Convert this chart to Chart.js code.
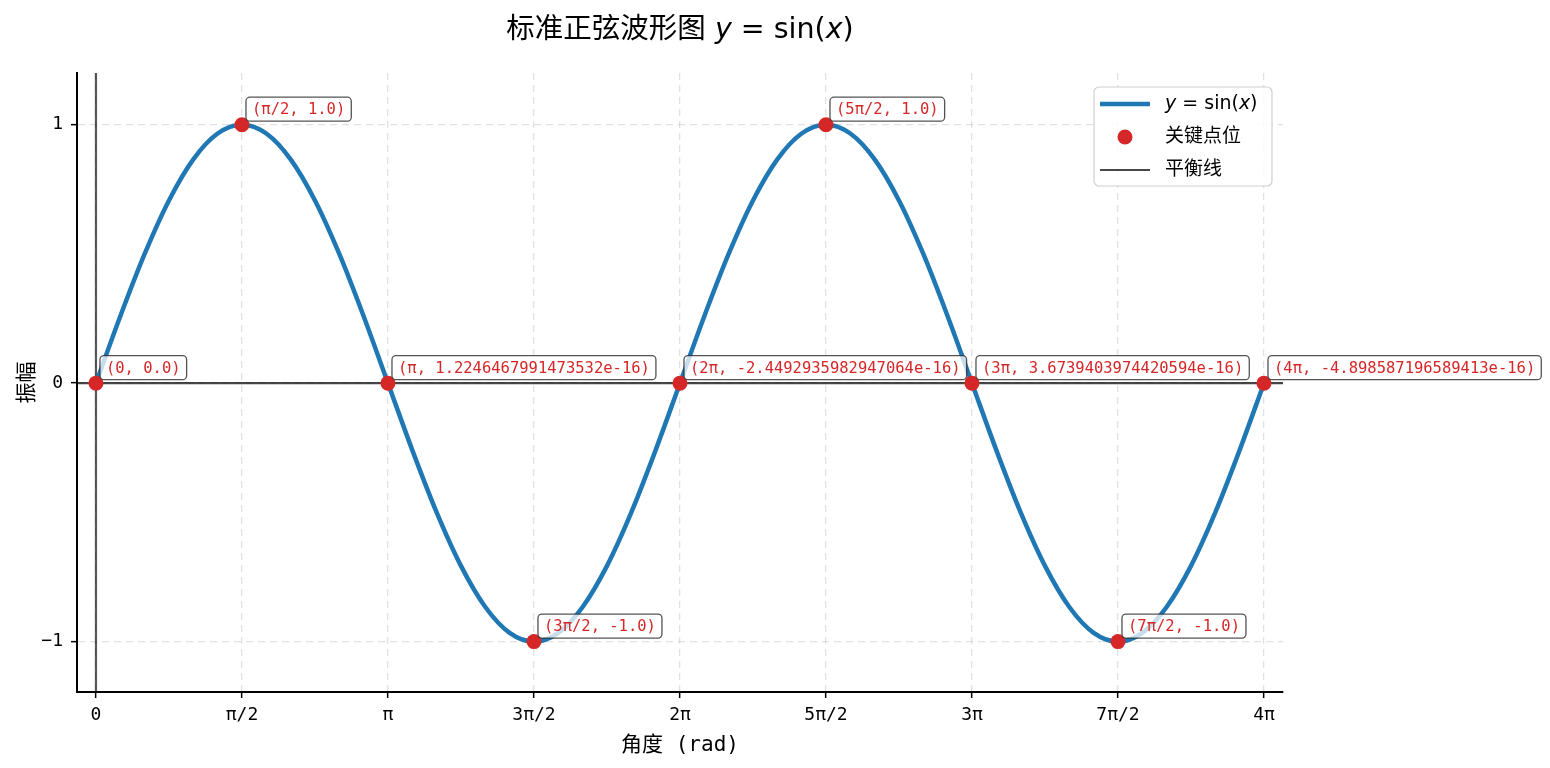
<!DOCTYPE html>
<html lang="zh">
<head>
<meta charset="utf-8">
<title>标准正弦波形图</title>
<script src="https://cdn.jsdelivr.net/npm/chart.js@4.4.1/dist/chart.umd.min.js"></script>
<style>
    html, body { margin: 0; padding: 0; background: #fff; }
    #wrap { width: 1550px; height: 768px; }
</style>
</head>
<body>
<div id="wrap"><canvas id="sineChart"></canvas></div>
<script>
const titleText = '标准正弦波形图 y = sin(x)';
const xAxisTitle = '角度 (rad)';
const yAxisTitle = '振幅';

// curve samples every π/12
const curveX = [0, 0.2618, 0.5236, 0.7854, 1.0472, 1.3090, 1.5708, 1.8326, 2.0944, 2.3562, 2.6180, 2.8798,
    3.1416, 3.4034, 3.6652, 3.9270, 4.1888, 4.4506, 4.7124, 4.9742, 5.2360, 5.4978, 5.7596, 6.0214,
    6.2832, 6.5450, 6.8068, 7.0686, 7.3304, 7.5922, 7.8540, 8.1158, 8.3776, 8.6394, 8.9012, 9.1630,
    9.4248, 9.6866, 9.9484, 10.2102, 10.4720, 10.7338, 10.9956, 11.2574, 11.5192, 11.7810, 12.0428, 12.3046,
    12.5664];
const curveY = [0, 0.259, 0.5, 0.707, 0.866, 0.966, 1, 0.966, 0.866, 0.707, 0.5, 0.259,
    0, -0.259, -0.5, -0.707, -0.866, -0.966, -1, -0.966, -0.866, -0.707, -0.5, -0.259,
    0, 0.259, 0.5, 0.707, 0.866, 0.966, 1, 0.966, 0.866, 0.707, 0.5, 0.259,
    0, -0.259, -0.5, -0.707, -0.866, -0.966, -1, -0.966, -0.866, -0.707, -0.5, -0.259,
    0];

// key points (multiples of π/2)
const keyX = [0, 1.5708, 3.1416, 4.7124, 6.2832, 7.8540, 9.4248, 10.9956, 12.5664];
const keyY = [0, 1, 0, -1, 0, 1, 0, -1, 0];
const keyLabels = ['(0, 0.0)', '(π/2, 1.0)', '(π, 1.2246467991473532e-16)', '(3π/2, -1.0)',
    '(2π, -2.4492935982947064e-16)', '(5π/2, 1.0)', '(3π, 3.6739403974420594e-16)',
    '(7π/2, -1.0)', '(4π, -4.898587196589413e-16)'];

const xTickValues = [0, 1.5708, 3.1416, 4.7124, 6.2832, 7.8540, 9.4248, 10.9956, 12.5664];
const xTickLabels = ['0', 'π/2', 'π', '3π/2', '2π', '5π/2', '3π', '7π/2', '4π'];
const yTickValues = [-1, 0, 1];
const yTickLabels = ['−1', '0', '1'];

const xRange = [-0.204, 12.771];
const yRange = [-1.195, 1.2];

const CJK = "'Noto Sans CJK SC'";
const MONO = "'DejaVu Sans Mono', " + CJK;

// draw text where x / y are italic (matplotlib mathtext look)
function drawMath(ctx, text, x, y, size, align) {
    const runs = [];
    for (const ch of text) {
        const it = (ch === 'x' || ch === 'y');
        if (runs.length && runs[runs.length - 1].it === it) runs[runs.length - 1].t += ch;
        else runs.push({ t: ch, it: it });
    }
    const fontOf = r => (r.it ? 'italic ' : '') + size + "px 'DejaVu Sans', " + CJK;
    let total = 0;
    runs.forEach(r => { ctx.font = fontOf(r); r.w = ctx.measureText(r.t).width; total += r.w; });
    let cx = align === 'center' ? x - total / 2 : x;
    ctx.textAlign = 'left';
    runs.forEach(r => { ctx.font = fontOf(r); ctx.fillText(r.t, cx, y); cx += r.w; });
}

function roundRect(ctx, x, y, w, h, r) {
    ctx.beginPath();
    ctx.moveTo(x + r, y);
    ctx.arcTo(x + w, y, x + w, y + h, r);
    ctx.arcTo(x + w, y + h, x, y + h, r);
    ctx.arcTo(x, y + h, x, y, r);
    ctx.arcTo(x, y, x + w, y, r);
    ctx.closePath();
}

const decorPlugin = {
    id: 'decor',
    afterDatasetsDraw(chart) {
        const { ctx, scales: { x, y } } = chart;
        ctx.save();
        ctx.font = '15.5px ' + MONO;
        ctx.textBaseline = 'middle';
        ctx.textAlign = 'left';
        keyLabels.forEach((t, i) => {
            const px = x.getPixelForValue(keyX[i]);
            const py = y.getPixelForValue(keyY[i]);
            const w = ctx.measureText(t).width;
            const cy = py - 15.5;
            roundRect(ctx, px + 4, cy - 12, w + 12, 24, 4);
            ctx.fillStyle = 'rgba(255,255,255,0.75)';
            ctx.fill();
            ctx.lineWidth = 1.3;
            ctx.strokeStyle = 'rgba(40,40,40,0.8)';
            ctx.stroke();
            ctx.fillStyle = '#d62728';
            ctx.fillText(t, px + 10, cy + 1);
        });
        ctx.restore();
    },
    afterDraw(chart) {
        const { ctx, chartArea } = chart;
        ctx.save();
        // title
        ctx.fillStyle = '#000';
        ctx.textBaseline = 'middle';
        drawMath(ctx, titleText, (chartArea.left + chartArea.right) / 2, 31, 28.5, 'center');

        // legend
        const ds = chart.data.datasets.filter(d => d.label);
        const bx = chartArea.right - 189, by = chartArea.top + 14, bw = 178, bh = 99;
        roundRect(ctx, bx, by, bw, bh, 5);
        ctx.fillStyle = 'rgba(255,255,255,0.85)';
        ctx.fill();
        ctx.lineWidth = 1.2;
        ctx.strokeStyle = '#d0d0d0';
        ctx.stroke();
        ds.forEach((d, i) => {
            const ry = by + 17 + i * 33;
            if (d.showLine === false) {
                ctx.beginPath();
                ctx.arc(bx + 31, ry, 7.5, 0, Math.PI * 2);
                ctx.fillStyle = d.pointBackgroundColor;
                ctx.fill();
            } else {
                ctx.beginPath();
                ctx.moveTo(bx + 6, ry);
                ctx.lineTo(bx + 56, ry);
                ctx.lineWidth = d.borderWidth;
                ctx.strokeStyle = d.borderColor;
                ctx.stroke();
            }
            ctx.fillStyle = '#000';
            drawMath(ctx, d.label, bx + 71, ry, 19, 'left');
        });
        ctx.restore();
    }
};

const ctx = document.getElementById('sineChart').getContext('2d');
new Chart(ctx, {
    type: 'line',
    data: {
        datasets: [
            {
                label: 'y = sin(x)',
                data: curveX.map((v, i) => ({ x: v, y: curveY[i] })),
                borderColor: '#1f77b4',
                borderWidth: 4.5,
                pointRadius: 0,
                cubicInterpolationMode: 'monotone',
                order: 1,
            },
            {
                label: '关键点位',
                data: keyX.map((v, i) => ({ x: v, y: keyY[i] })),
                showLine: false,
                pointRadius: 7.5,
                pointBackgroundColor: '#d62728',
                pointBorderWidth: 0,
                order: 0,
            },
            {
                label: '平衡线',
                data: [{ x: xRange[0], y: 0 }, { x: xRange[1], y: 0 }],
                borderColor: 'rgba(0,0,0,0.72)',
                borderWidth: 2.2,
                pointRadius: 0,
                order: 2,
            },
            {
                label: '',
                data: [{ x: 0, y: yRange[0] }, { x: 0, y: yRange[1] }],
                borderColor: 'rgba(0,0,0,0.65)',
                borderWidth: 2.2,
                pointRadius: 0,
                order: 3,
            },
        ],
    },
    options: {
        responsive: true,
        maintainAspectRatio: false,
        animation: false,
        layout: { padding: { top: 73, right: 267, left: 0, bottom: 0 } },
        plugins: {
            legend: { display: false },
            tooltip: { enabled: false },
            title: { display: false },
        },
        scales: {
            x: {
                type: 'linear',
                min: xRange[0],
                max: xRange[1],
                afterBuildTicks: scale => { scale.ticks = xTickValues.map(v => ({ value: v })); },
                afterFit: scale => { scale.height = 76; },
                ticks: {
                    autoSkip: false,
                    maxRotation: 0,
                    padding: 7,
                    color: '#000',
                    font: { family: MONO, size: 18 },
                    callback: (value, index) => xTickLabels[index],
                },
                grid: { color: 'rgba(176,176,176,0.38)', lineWidth: 1.3, tickLength: 6, tickColor: '#000', tickWidth: 1.5, tickBorderDash: [] },
                border: { display: true, color: '#000', width: 2, dash: [7, 5] },
                title: { display: true, text: xAxisTitle, color: '#000', font: { family: MONO, size: 21 }, padding: { top: 0, bottom: 10 } },
            },
            y: {
                type: 'linear',
                min: yRange[0],
                max: yRange[1],
                afterBuildTicks: scale => { scale.ticks = yTickValues.map(v => ({ value: v })); },
                afterFit: scale => { scale.width = 77; },
                ticks: {
                    padding: 8,
                    color: '#000',
                    font: { family: MONO, size: 18 },
                    callback: (value, index) => yTickLabels[index],
                },
                grid: { color: 'rgba(176,176,176,0.38)', lineWidth: 1.3, tickLength: 6, tickColor: '#000', tickWidth: 1.5, tickBorderDash: [] },
                border: { display: true, color: '#000', width: 2, dash: [7, 5] },
                title: { display: true, text: yAxisTitle, color: '#000', font: { family: CJK, size: 21 }, padding: { top: 12, bottom: 0 } },
            },
        },
    },
    plugins: [decorPlugin],
});
</script>
</body>
</html>
